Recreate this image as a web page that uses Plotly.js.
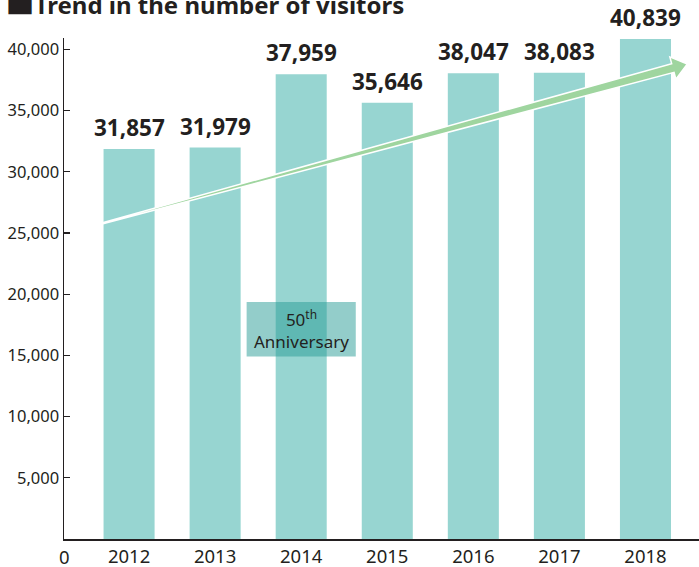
<!DOCTYPE html>
<html>
<head>
<meta charset="utf-8">
<script src="https://cdn.plot.ly/plotly-3.0.1.min.js"></script>
<style>
  html, body { margin: 0; padding: 0; background: #ffffff; }
  #chart { width: 699px; height: 567px; }
</style>
</head>
<body>
<div id="chart"></div>
<script>
// Annual visitors, 2012-2018
const years = [2012, 2013, 2014, 2015, 2016, 2017, 2018];
const visitors = [31857, 31979, 37959, 35646, 38047, 38083, 40839];

// Y axis ticks (the origin "0" is written once under the corner)
const yTickVals = [5000, 10000, 15000, 20000, 25000, 30000, 35000, 40000];
const yTickText = ['5,000', '10,000', '15,000', '20,000', '25,000', '30,000', '35,000', '40,000'];
const xTickText = ['2012', '2013', '2014', '2015', '2016', '2017', '2018'];

// The anniversary year is highlighted with a tinted box
const anniversaryYear = 2014;

const FONT = "'Noto Sans', 'Open Sans', 'Liberation Sans', sans-serif";
const INK = '#231f20';
const BAR = '#97d5d1';
const ARROW = '#9fd59f';

const fmt = v => v.toLocaleString('en-US');

// Trend arrow: a wedge that widens from a thin tail to an arrowhead,
// anchored at its tail in data space and drawn in pixel offsets.
function trendArrowPath() {
  const ang = 15.23 * Math.PI / 180;     // rising direction
  const shaftLen = 590, tipLen = 605;    // along the arrow, px
  const tailHalf = 0.6, shaftHalf = 4.5, headHalf = 11.5;
  const u = [Math.cos(ang), Math.sin(ang)];
  const n = [-Math.sin(ang), Math.cos(ang)];
  const p = (d, w) => [u[0] * d + n[0] * w, u[1] * d + n[1] * w];
  const pts = [
    p(0, tailHalf), p(shaftLen, shaftHalf), p(shaftLen, headHalf),
    p(tipLen, 0),
    p(shaftLen, -headHalf), p(shaftLen, -shaftHalf), p(0, -tailHalf)
  ];
  return 'M' + pts.map(q => q[0].toFixed(2) + ',' + q[1].toFixed(2)).join(' L') + ' Z';
}

const bars = {
  type: 'bar',
  x: years,
  y: visitors,
  width: 0.593,
  marker: { color: BAR, line: { width: 0 } },
  hoverinfo: 'skip',
  cliponaxis: false
};

const valueLabels = years.map((yr, i) => ({
  x: yr, y: visitors[i], xref: 'x', yref: 'y',
  text: fmt(visitors[i]),
  showarrow: false, yanchor: 'bottom', yshift: 4,
  font: { family: FONT, size: 22.5, color: INK, weight: 700 }
}));

const layout = {
  width: 699,
  height: 567,
  margin: { l: 64, r: 0, t: 38, b: 28, pad: 0 },
  paper_bgcolor: '#ffffff',
  plot_bgcolor: '#ffffff',
  showlegend: false,
  title: {
    text: '<span style="font-family:\'Noto Sans CJK JP\';font-size:29px">■</span>Trend in the number of visitors',
    font: { family: FONT, size: 24, color: INK, weight: 700 },
    xref: 'container', x: 0.008, xanchor: 'left',
    yref: 'container', y: 0.9902, yanchor: 'middle'
  },
  xaxis: {
    type: 'linear',
    range: [2011.244, 2018.622],
    tickmode: 'array',
    tickvals: years,
    ticktext: xTickText,
    ticks: '',
    showgrid: false,
    zeroline: false,
    showline: true,
    linecolor: INK,
    linewidth: 1.5,
    tickfont: { family: FONT, size: 18.5, color: INK },
    fixedrange: true
  },
  yaxis: {
    range: [0, 40925],
    tickmode: 'array',
    tickvals: yTickVals,
    ticktext: yTickText,
    ticks: 'inside',
    ticklen: 6,
    tickwidth: 1.3,
    tickcolor: INK,
    showgrid: false,
    zeroline: false,
    showline: true,
    linecolor: INK,
    linewidth: 1.5,
    tickfont: { family: FONT, size: 16.5, color: INK },
    fixedrange: true
  },
  shapes: [
    {
      type: 'rect', layer: 'above',
      xref: 'x', yref: 'y',
      x0: anniversaryYear - 0.634, x1: anniversaryYear + 0.634,
      y0: 14900, y1: 19350,
      fillcolor: 'rgba(40,155,150,0.5)',
      line: { width: 0 }
    },
    {
      type: 'path', layer: 'above',
      xref: 'x', yref: 'y',
      xsizemode: 'pixel', ysizemode: 'pixel',
      xanchor: 2011.704, yanchor: 25813,
      path: trendArrowPath(),
      fillcolor: ARROW,
      line: { color: '#ffffff', width: 1.5 }
    }
  ],
  annotations: valueLabels.concat([
    {
      x: anniversaryYear, y: 17125, xref: 'x', yref: 'y',
      text: '50<sup>th</sup><br>Anniversary',
      showarrow: false,
      font: { family: FONT, size: 17, color: INK }
    },
    {
      x: 0, y: 0, xref: 'paper', yref: 'paper',
      text: '0', showarrow: false,
      xanchor: 'center', yanchor: 'top', yshift: -3,
      font: { family: FONT, size: 18.5, color: INK }
    }
  ])
};

Plotly.newPlot('chart', [bars], layout, { displayModeBar: false, staticPlot: true });
</script>
</body>
</html>
